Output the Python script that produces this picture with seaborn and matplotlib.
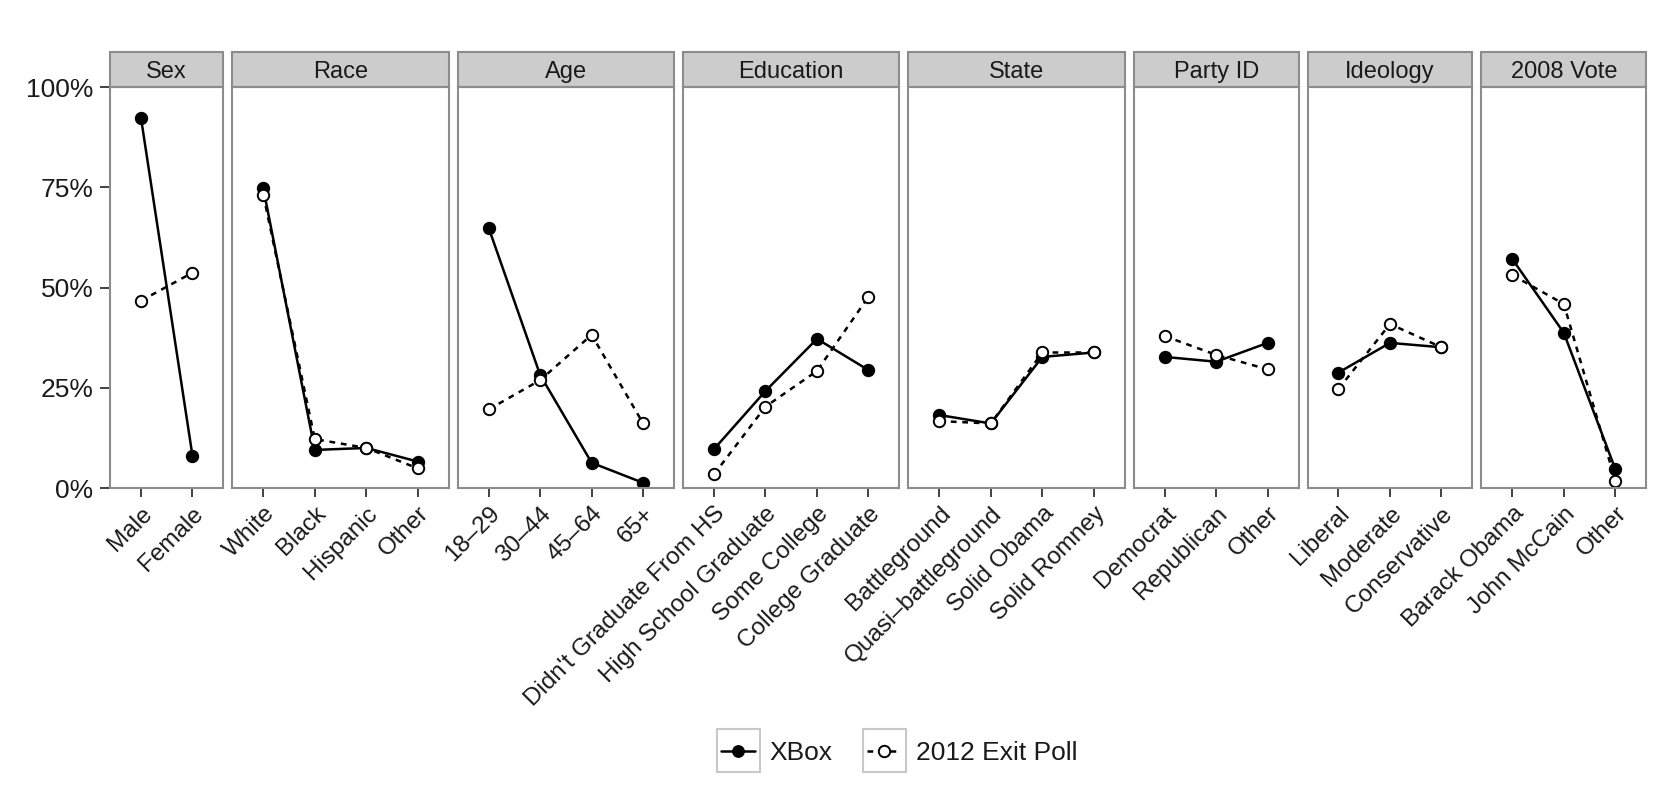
import numpy as np
import pandas as pd
import matplotlib
matplotlib.use('Agg')
import matplotlib.pyplot as plt
from matplotlib.patches import Rectangle
from matplotlib.lines import Line2D
import seaborn as sns

# facet panels and their categories
panels = ['Sex', 'Race', 'Age', 'Education', 'State', 'Party ID', 'Ideology', '2008 Vote']
sex_cats = ['Male', 'Female']
race_cats = ['White', 'Black', 'Hispanic', 'Other']
age_cats = ['18–29', '30–44', '45–64', '65+']
edu_cats = ["Didn't Graduate From HS", 'High School Graduate', 'Some College', 'College Graduate']
state_cats = ['Battleground', 'Quasi–battleground', 'Solid Obama', 'Solid Romney']
party_cats = ['Democrat', 'Republican', 'Other']
ideo_cats = ['Liberal', 'Moderate', 'Conservative']
vote_cats = ['Barack Obama', 'John McCain', 'Other']

# shares (fractions)
xbox_sex = [0.923, 0.080]
exit_sex = [0.467, 0.537]
xbox_race = [0.747, 0.095, 0.100, 0.066]
exit_race = [0.731, 0.122, 0.100, 0.049]
xbox_age = [0.649, 0.282, 0.063, 0.013]
exit_age = [0.196, 0.269, 0.382, 0.161]
xbox_edu = [0.097, 0.242, 0.372, 0.294]
exit_edu = [0.034, 0.203, 0.292, 0.477]
xbox_state = [0.182, 0.161, 0.327, 0.338]
exit_state = [0.167, 0.161, 0.338, 0.338]
xbox_party = [0.327, 0.315, 0.362]
exit_party = [0.379, 0.332, 0.296]
xbox_ideo = [0.288, 0.362, 0.351]
exit_ideo = [0.247, 0.409, 0.351]
xbox_vote = [0.571, 0.387, 0.047]
exit_vote = [0.531, 0.459, 0.018]

categories = [sex_cats, race_cats, age_cats, edu_cats, state_cats, party_cats, ideo_cats, vote_cats]
xbox_vals = [xbox_sex, xbox_race, xbox_age, xbox_edu, xbox_state, xbox_party, xbox_ideo, xbox_vote]
exit_vals = [exit_sex, exit_race, exit_age, exit_edu, exit_state, exit_party, exit_ideo, exit_vote]

rows = []
for panel, cats, xv, ev in zip(panels, categories, xbox_vals, exit_vals):
    for c, v in zip(cats, xv):
        rows.append({'panel': panel, 'category': c, 'source': 'XBox', 'share': v})
    for c, v in zip(cats, ev):
        rows.append({'panel': panel, 'category': c, 'source': '2012 Exit Poll', 'share': v})
df = pd.DataFrame(rows)

sns.set_theme(style='white')
plt.rcParams['font.family'] = ['Liberation Sans', 'DejaVu Sans']

border = '#8c8c8c'
text_col = '#1a1a1a'
dash = (0, (2.3, 2.3))
lw = 1.8
ms = 8.2

fig = plt.figure(figsize=(16.73, 7.91), dpi=100)
widths = [len(c) + 0.2 for c in categories]
gs = fig.add_gridspec(1, len(panels), width_ratios=widths, left=0.0658, right=0.984,
                      bottom=0.383, top=0.890, wspace=0.049)

styles = {'XBox': ('-', 'black'), '2012 Exit Poll': (dash, 'white')}

for i, (panel, cats) in enumerate(zip(panels, categories)):
    ax = fig.add_subplot(gs[0, i])
    sub = df[df['panel'] == panel]
    for src in ['XBox', '2012 Exit Poll']:
        ls, fc = styles[src]
        sns.lineplot(data=sub[sub['source'] == src], x='category', y='share', ax=ax,
                     sort=False, color='black', lw=lw, linestyle=ls, marker='o', ms=ms,
                     markerfacecolor=fc, markeredgecolor='black', markeredgewidth=1.4,
                     legend=False)
    ax.set_xlim(-0.6, len(cats) - 0.4)
    ax.set_ylim(0, 1)
    ax.set_xlabel('')
    ax.set_ylabel('')
    ax.set_xticks(range(len(cats)))
    ax.set_xticklabels(cats, rotation=45, ha='right', rotation_mode='anchor')
    ax.set_yticks([0, 0.25, 0.5, 0.75, 1.0])
    ax.tick_params(axis='x', bottom=True, direction='out', length=6.5, width=1.3,
                   color='#333333', labelsize=17.5, labelcolor=text_col, pad=4)
    if i == 0:
        ax.set_yticklabels(['0%', '25%', '50%', '75%', '100%'])
        ax.tick_params(axis='y', left=True, direction='out', length=7, width=1.3,
                       color='#333333', labelsize=19, labelcolor=text_col, pad=5)
    else:
        ax.tick_params(axis='y', left=False, labelleft=False)
    for s in ax.spines.values():
        s.set_color(border)
        s.set_linewidth(1.5)
    # facet strip
    strip_h = 35 / 401
    ax.add_patch(Rectangle((0, 1), 1, strip_h, transform=ax.transAxes, clip_on=False,
                           facecolor='#cccccc', edgecolor=border, lw=1.5))
    ax.text(0.5, 1 + strip_h / 2, panel, transform=ax.transAxes, ha='center',
            va='center_baseline', fontsize=17, color=text_col)

handles = [
    Line2D([0], [0], color='black', lw=lw, marker='o', ms=ms, mfc='black', mec='black'),
    Line2D([0], [0], color='black', lw=lw, linestyle=dash, marker='o', ms=ms,
           mfc='white', mec='black', mew=1.4),
]
leg = fig.legend(handles, ['XBox', '2012 Exit Poll'], loc='center', bbox_to_anchor=(0.5375, 0.048),
                 ncol=2, frameon=False, fontsize=19, handlelength=1.3, handletextpad=0.55,
                 columnspacing=1.3)
for t in leg.get_texts():
    t.set_color(text_col)

# grey key boxes behind the legend handles
fig.canvas.draw()
renderer = fig.canvas.get_renderer()
inv = fig.transFigure.inverted()
for h in leg.legend_handles:
    bb = h.get_window_extent(renderer)
    cx, cy = (bb.x0 + bb.x1) / 2, (bb.y0 + bb.y1) / 2
    (x0, y0) = inv.transform((cx - 21.5, cy - 21.5))
    (x1, y1) = inv.transform((cx + 21.5, cy + 21.5))
    fig.add_artist(Rectangle((x0, y0), x1 - x0, y1 - y0, transform=fig.transFigure,
                             facecolor='white', edgecolor='#c8c8c8', lw=1.5, zorder=1))

fig.savefig('out.png', dpi=100)
